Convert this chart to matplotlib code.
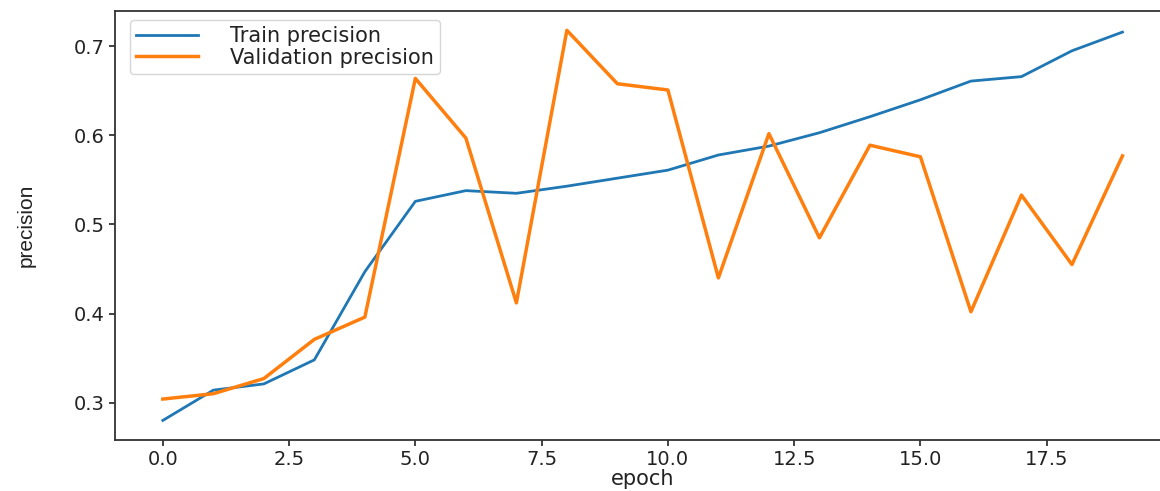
import matplotlib
matplotlib.use("Agg")
import matplotlib.pyplot as plt

epochs = list(range(20))
train_precision = [0.280, 0.314, 0.321, 0.348, 0.447, 0.526, 0.538, 0.535, 0.543, 0.552,
                   0.561, 0.578, 0.588, 0.603, 0.621, 0.640, 0.661, 0.666, 0.695, 0.716]
val_precision = [0.304, 0.310, 0.327, 0.371, 0.396, 0.664, 0.597, 0.412, 0.718, 0.658,
                 0.651, 0.440, 0.602, 0.485, 0.589, 0.576, 0.402, 0.533, 0.455, 0.577]

fig = plt.figure(figsize=(11.6, 4.91), dpi=100)
ax = fig.add_axes([0.099, 0.104, 0.910, 0.874])

ax.plot(epochs, train_precision, color="#1f77b4", lw=2.0, label="Train precision")
ax.plot(epochs, val_precision, color="#ff7f0e", lw=2.5, label="Validation precision")

for sp in ax.spines.values():
    sp.set_linewidth(1.3)
    sp.set_color("#333333")
# the right edge of the frame lies past the figure border
ax.spines["right"].set_visible(False)
ax.tick_params(labelsize=14, colors="#222222", width=1.2, length=4)

ax.set_xlabel("epoch", fontsize=15, labelpad=0, color="#222222")
ax.set_ylabel("precision", fontsize=15, color="#222222",
              family=["Liberation Sans", "DejaVu Sans"])
ax.yaxis.set_label_coords(-0.075, 0.5)
ax.set_yticks([0.3, 0.4, 0.5, 0.6, 0.7])

leg = ax.legend(loc="upper left", bbox_to_anchor=(0.014, 0.979), borderaxespad=0,
                prop={"size": 15}, handlelength=3.0, handletextpad=1.5,
                labelspacing=0.08, borderpad=0.3)
for t in leg.get_texts():
    t.set_color("#222222")

fig.savefig("out.png", dpi=100)
